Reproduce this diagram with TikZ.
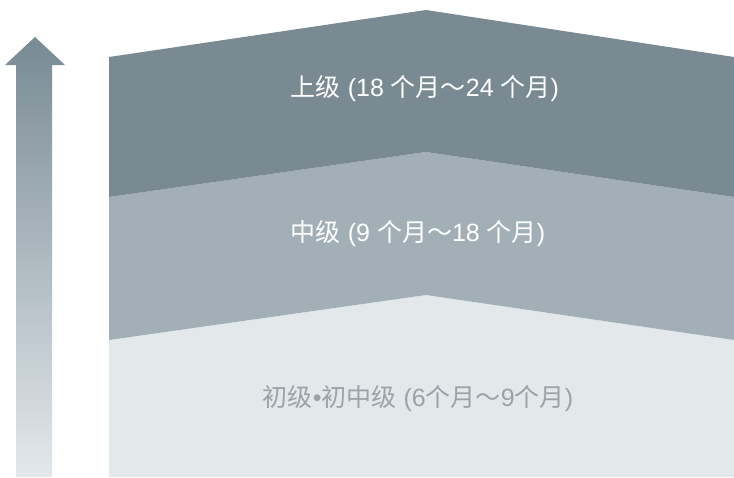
\documentclass[tikz,border=0pt]{standalone}
\usepackage{fontspec}
\setmainfont{Liberation Sans}
\newfontfamily\cjk{Noto Sans CJK SC}
\usetikzlibrary{positioning}

\definecolor{bandtop}{HTML}{798A93}
\definecolor{bandmid}{HTML}{A2AFB7}
\definecolor{bandlow}{HTML}{E3E8EB}
\definecolor{arrowtop}{HTML}{788A94}
\definecolor{arrowlow}{HTML}{E3E8EC}
\definecolor{textlow}{HTML}{9CA3A8}

\newcommand\zh[1]{{\cjk #1}}

\tikzset{
	levellabel/.style={inner sep=0pt,font=\fontsize{25}{29}\selectfont,text=white},
}

\begin{document}
\begin{tikzpicture}[line cap=round,line join=round,x=1pt,y=-1pt]
	\useasboundingbox (0,0) rectangle (734,477);
	% bands, from the bottom up
	\fill[bandlow] (109,340) -- (426,295) -- (734,340) -- (734,477) -- (109,477) -- cycle;
	\fill[bandmid] (109,197) -- (426,152) -- (734,197) -- (734,340) -- (426,295) -- (109,340) -- cycle;
	\fill[bandtop] (109,57) -- (426,10) -- (734,57) -- (734,197) -- (426,152) -- (109,197) -- cycle;
	% arrow
	\shade[top color=arrowtop,bottom color=arrowlow] (35,37) -- (65,65) -- (52,65) -- (52,477) -- (16,477) -- (16,65) -- (5,65) -- cycle;
	% labels
	\node[levellabel] (upper) at (425,89) {\zh{上级} (18 \zh{个月～}24 \zh{个月})};
	\node[levellabel] (middle) at (418,234) {\zh{中级} (9 \zh{个月～}18 \zh{个月})};
	\node[levellabel,text=textlow] (lower) at (418,399) {\zh{初级}•\zh{初中级} (6\zh{个月～}9\zh{个月})};
\end{tikzpicture}
\end{document}
